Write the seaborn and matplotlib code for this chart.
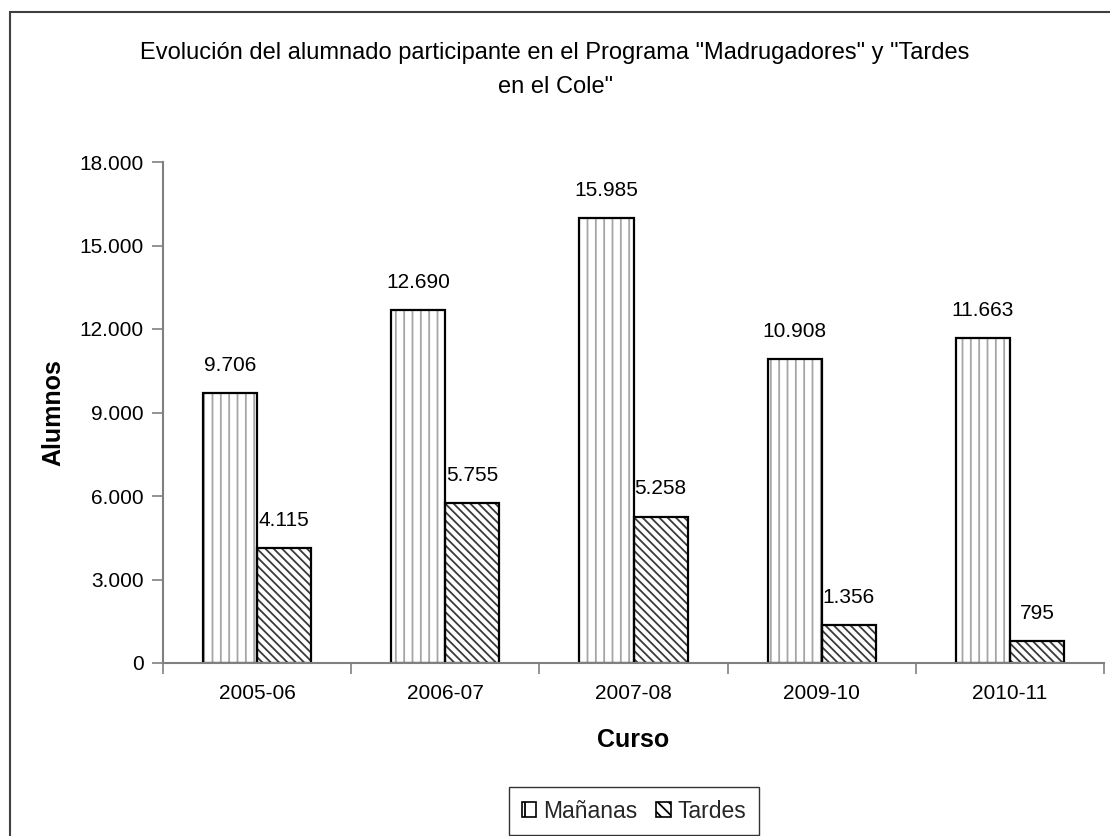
import matplotlib
matplotlib.use("Agg")
import matplotlib.pyplot as plt
from matplotlib.patches import Rectangle, Patch
from matplotlib.ticker import FixedLocator, FuncFormatter
import seaborn as sns
import pandas as pd

# Alumnos por curso y turno
cursos = ["2005-06", "2006-07", "2007-08", "2009-10", "2010-11"]
mananas = [9706, 12690, 15985, 10908, 11663]
tardes = [4115, 5755, 5258, 1356, 795]
turnos = ["Mañanas", "Tardes"]
yticks = [0, 3000, 6000, 9000, 12000, 15000, 18000]

titulo = 'Evolución del alumnado participante en el Programa "Madrugadores" y "Tardes\nen el Cole"'

sns.set_theme(style="white")
plt.rcParams["font.family"] = ["Liberation Sans", "DejaVu Sans"]
plt.rcParams["hatch.linewidth"] = 1.3

df = pd.DataFrame({
    "Curso": cursos * 2,
    "Alumnos": mananas + tardes,
    "Turno": [turnos[0]] * len(cursos) + [turnos[1]] * len(cursos),
})

W, H = 1110, 836
fig = plt.figure(figsize=(W / 100, H / 100), dpi=100)
fig.patch.set_facecolor("white")
ax = fig.add_axes([163 / W, 1 - 663 / H, (1104 - 163) / W, (663 - 162) / H])

sns.barplot(data=df, x="Curso", y="Alumnos", hue="Turno", hue_order=turnos,
            palette={"Mañanas": "white", "Tardes": "white"},
            width=0.574, errorbar=None, legend=False, ax=ax)

estilos = {
    "Mañanas": dict(hatch="||", color="#a6a6a6", leg_hatch="|"),
    "Tardes": dict(hatch="\\\\\\\\", color="#3a3a3a", leg_hatch="\\\\\\"),
}

def fmt(v):
    return f"{int(v):,}".replace(",", ".")

for turno, cont in zip(turnos, ax.containers):
    est = estilos[turno]
    for bar in cont:
        bar.set_hatch(est["hatch"])
        bar.set_edgecolor(est["color"])
        bar.set_linewidth(0)
        ax.add_patch(Rectangle(bar.get_xy(), bar.get_width(), bar.get_height(),
                               fill=False, edgecolor="black", linewidth=1.6,
                               zorder=bar.get_zorder() + 0.1))
        ax.annotate(fmt(bar.get_height()),
                    (bar.get_x() + bar.get_width() / 2, bar.get_height()),
                    xytext=(0, 20), textcoords="offset points",
                    ha="center", va="center", fontsize=15, color="black")

ax.set_xlim(-0.5, len(cursos) - 0.5)
ax.set_ylim(0, 18000)
ax.set_yticks(yticks)
ax.yaxis.set_major_formatter(FuncFormatter(lambda v, p: fmt(v)))

# Marcas del eje X en los límites de cada categoría
ax.xaxis.set_minor_locator(FixedLocator([i - 0.5 for i in range(len(cursos) + 1)]))
ax.tick_params(axis="x", which="major", length=0, pad=15, labelsize=15, colors="black")
ax.tick_params(axis="x", which="minor", length=8, width=1.2, color="#808080", direction="out", bottom=True)
ax.tick_params(axis="y", which="major", length=8, width=1.2, color="#808080", direction="out",
               left=True, labelsize=15, pad=6, labelcolor="black")

for s in ["top", "right"]:
    ax.spines[s].set_visible(False)
for s in ["left", "bottom"]:
    ax.spines[s].set_color("#808080")
    ax.spines[s].set_linewidth(1.5)

ax.set_xlabel("Curso", fontsize=18, fontweight="bold", color="black", va="center")
ax.set_ylabel("Alumnos", fontsize=18, fontweight="bold", color="black", va="center")
ax.xaxis.set_label_coords(0.5, -0.154)
ax.yaxis.set_label_coords(-0.117, 0.5)
ax.grid(False)

fig.text(555 / W, 1 - 70 / H, titulo, ha="center", va="center", fontsize=17,
         linespacing=1.75, color="black")

# Marco del área del gráfico
fig.patches.append(Rectangle((10 / W, -0.1), 1.2, 1.1 - 12 / H, transform=fig.transFigure,
                             fill=False, edgecolor="#404040", linewidth=1.5, zorder=0))

handles = [Patch(facecolor="white", edgecolor="black", hatch=estilos[t]["leg_hatch"], linewidth=1.2)
           for t in turnos]
leg = fig.legend(handles, turnos, loc="center", bbox_to_anchor=(634 / W, 1 - 811 / H), ncol=2,
                 fontsize=16.5, frameon=True, fancybox=False, shadow=False,
                 handlelength=0.65, handleheight=0.65, handletextpad=0.3,
                 columnspacing=0.8, borderpad=0.55)
leg.get_frame().set_edgecolor("black")
leg.get_frame().set_linewidth(1.0)

fig.savefig("out.png", dpi=100, facecolor="white")
